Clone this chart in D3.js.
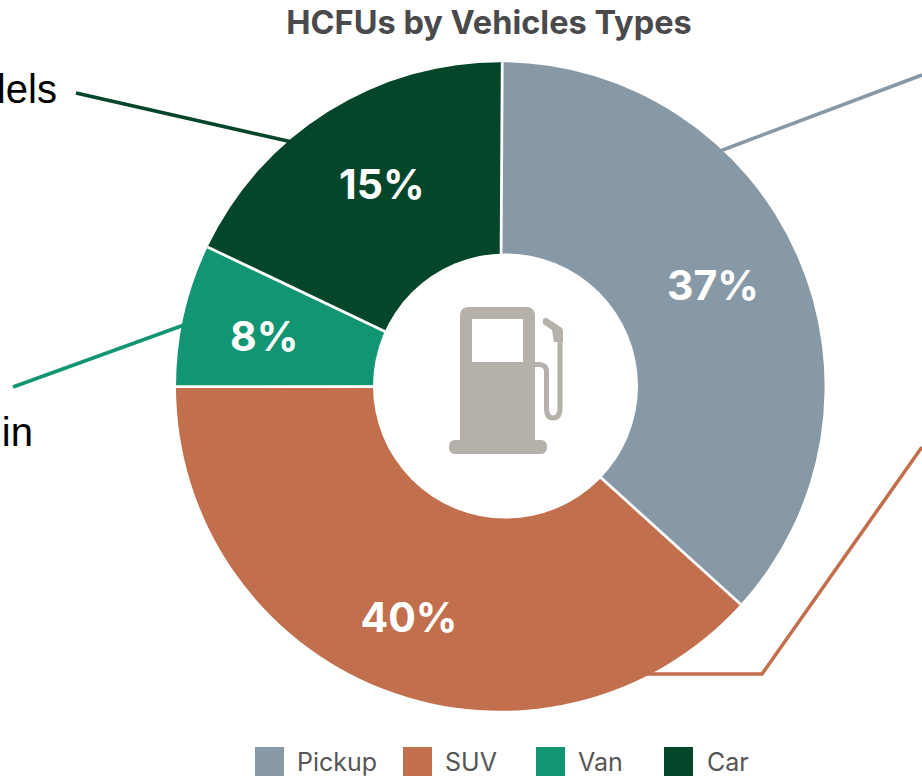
<!DOCTYPE html>
<html><head><meta charset="utf-8">
<script src="https://cdn.jsdelivr.net/npm/d3@7/dist/d3.min.js"></script>
<style>html,body{margin:0;padding:0;background:#fff;overflow:hidden}svg{display:block}</style>
</head><body><svg id="c" width="922" height="778"></svg>
<script>
const categories = ["Pickup","SUV","Van","Car"];
const sliceValues = [36.62,38.28,7.08,18.02];
const percentLabels = ["37%","40%","8%","15%"];
const colors = ["#8799A6","#C26F4D","#129572","#04462A"];
const titleText = "HCFUs by Vehicles Types";
const sideTexts = ["dels","in"];

const svg = d3.select("#c");
const cx = 500.3, cy = 386.5, R = 324.3;
const g = svg.append("g").attr("transform",`translate(${cx},${cy})`);
const rot = 0.006;
const pie = d3.pie().sort(null).value(d=>d).startAngle(rot).endAngle(2*Math.PI+rot)(sliceValues);
const arc = d3.arc().innerRadius(0).outerRadius(R);
const color = d3.scaleOrdinal(categories,colors);

const line = d3.line();
const leaders = [
  {c:"Car",p:[[76,93],[292,142]]},
  {c:"Van",p:[[13,387],[184,325]]},
  {c:"Pickup",p:[[720,151],[922,75]]},
  {c:"SUV",p:[[640,674],[762,674],[922,447]]}
];
svg.selectAll("path.leader").data(leaders).join("path").attr("class","leader")
  .attr("d",d=>line(d.p)).attr("fill","none").attr("stroke",d=>color(d.c)).attr("stroke-width",3.6);

svg.node().appendChild(g.node());
g.selectAll("path.slice").data(pie).join("path").attr("class","slice")
  .attr("d",arc).attr("fill",(d,i)=>color(categories[i]));
g.selectAll("line.sep").data(pie).join("line").attr("class","sep")
  .attr("x1",0).attr("y1",0)
  .attr("x2",d=>R*Math.sin(d.startAngle)).attr("y2",d=>-R*Math.cos(d.startAngle))
  .attr("stroke","#fff").attr("stroke-width",2.8);

svg.append("circle").attr("cx",505.5).attr("cy",386).attr("r",132.5).attr("fill","#fff");

const pump = svg.append("g").attr("fill","#B5B0A9");
pump.append("path").attr("fill-rule","evenodd").attr("d",
 "M469 307H526Q535 307 535 316V440H541Q547 440 547 447Q547 454 541 454H455Q449 454 449 447Q449 440 455 440H460V316Q460 307 469 307Z M472 319V362H523V319Z");
pump.append("path").attr("fill","none").attr("stroke","#B5B0A9").attr("stroke-width",5)
 .attr("d","M535 364.5H539Q546.5 364.5 546.5 372V408Q546.5 418 553 418Q560 418 560 408V335");
pump.append("path").attr("d","M543 319L546 317.5L562 328L563 331V342H554L552 330L543 324Z");

const labelR = 240;
const labelShift = [[-7,-3.5],[-5,8],[-2,3],[9,2]];
g.selectAll("text.pct").data(pie).join("text").attr("class","pct")
  .attr("transform",(d,i)=>{
    const a=(d.startAngle+d.endAngle)/2;
    return `translate(${labelR*Math.sin(a)},${-labelR*Math.cos(a)})`;})
  .attr("dx",(d,i)=>labelShift[i][0]).attr("dy",(d,i)=>labelShift[i][1]+14)
  .attr("text-anchor","middle")
  .attr("font-family","Inter,Roboto,sans-serif").attr("font-weight",700)
  .attr("font-size",41).attr("fill","#fff").text((d,i)=>percentLabels[i]);

svg.append("text").attr("x",489).attr("y",34).attr("text-anchor","middle")
  .attr("font-family","Inter,Roboto,sans-serif").attr("font-weight",700)
  .attr("font-size",32.5).attr("fill","#4A4A4C").text(titleText);

svg.append("text").attr("x",57).attr("y",103).attr("text-anchor","end")
  .attr("font-family","Liberation Sans,Arial,sans-serif").attr("font-size",40).attr("fill","#000").text(sideTexts[0]);
svg.append("text").attr("x",33).attr("y",446).attr("text-anchor","end")
  .attr("font-family","Liberation Sans,Arial,sans-serif").attr("font-size",40).attr("fill","#000").text(sideTexts[1]);

const squareX = [255,403,536,664], textX = [297,445,578,707];
const lg = svg.selectAll("g.lg").data(categories).join("g").attr("class","lg");
lg.append("rect").attr("x",(d,i)=>squareX[i]).attr("y",747).attr("width",29).attr("height",29).attr("fill",d=>color(d));
lg.append("text").attr("x",(d,i)=>textX[i]).attr("y",771)
  .attr("font-family","Inter,Roboto,sans-serif").attr("font-size",25).attr("fill","#555").text(d=>d);
</script></body></html>
